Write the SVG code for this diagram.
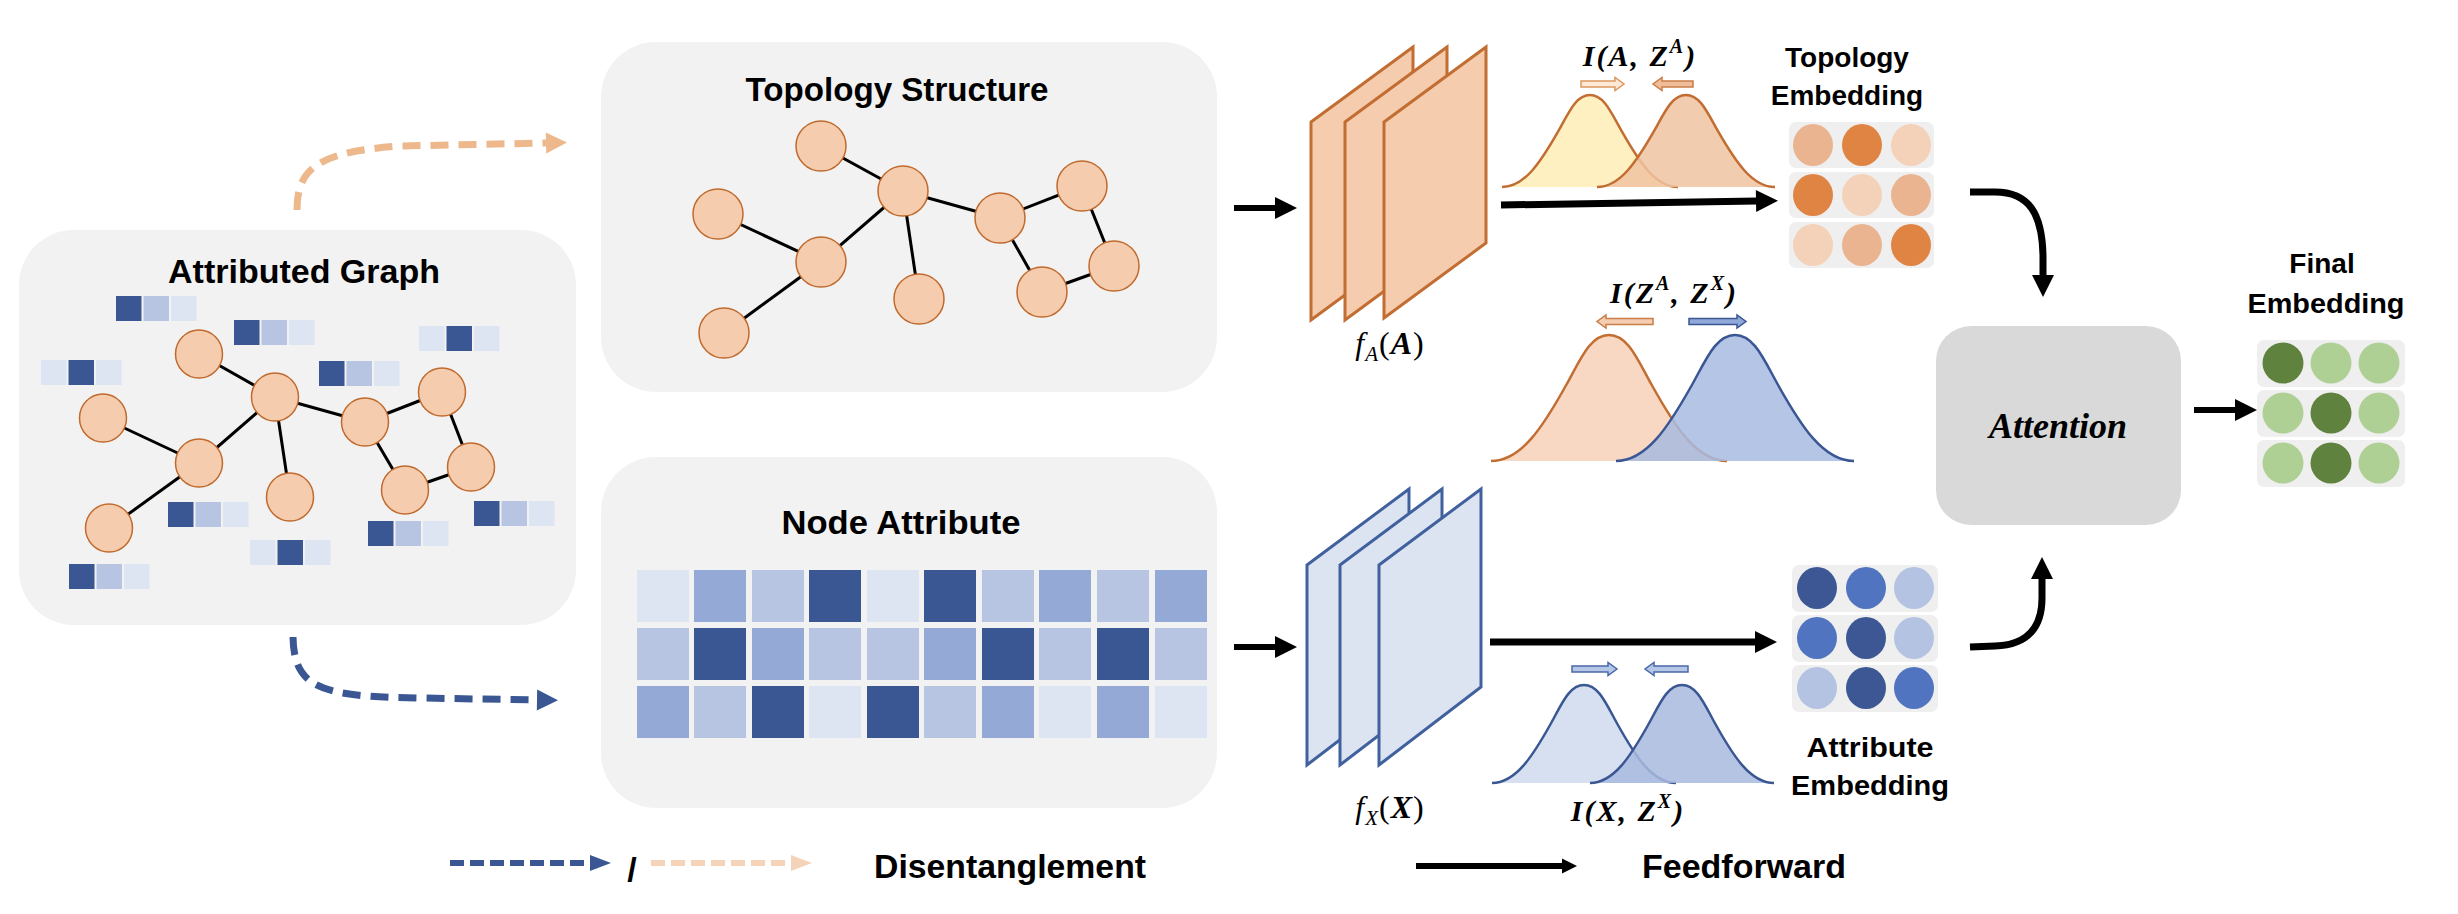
<svg xmlns="http://www.w3.org/2000/svg" width="2458" height="914" viewBox="0 0 2458 914">
<style>
.box{fill:#F2F2F2}
.ttl{font-family:"Liberation Sans",Arial,sans-serif;font-weight:bold;font-size:34px;fill:#000;text-anchor:middle}
.lbl{font-family:"Liberation Sans",Arial,sans-serif;font-weight:bold;font-size:28px;fill:#000;text-anchor:middle}
.math{font-family:"Liberation Serif","Times New Roman",serif;font-size:32px;fill:#000;text-anchor:middle;letter-spacing:1px}
.mb{font-family:"Liberation Serif","Times New Roman",serif;font-size:30px;font-weight:bold;font-style:italic;fill:#000;text-anchor:middle;letter-spacing:2px}
.att{font-family:"Liberation Serif","Times New Roman",serif;font-size:36px;font-weight:bold;font-style:italic;fill:#000;text-anchor:middle}
.nd{fill:#F5CDAE;stroke:#C06A2E;stroke-width:1.5}
.ed{stroke:#000;stroke-width:3;fill:none}
.D{fill:#3A5794}.M{fill:#95A9D7}.L{fill:#B7C5E3}.V{fill:#DEE5F2}
.rowbg{fill:#EFEFEF}
.pA{fill:#F5CDAE;stroke:#C26D31;stroke-width:3}
.pX{fill:#DCE4F2;stroke:#41609E;stroke-width:3}
.gO{stroke:#C26D31;stroke-width:2.5}
.gB{stroke:#3A5794;stroke-width:2.5}
.Om{fill:#E9B48F}.Od{fill:#E08443}.Ol{fill:#F4D2B9}
.Bd{fill:#3D5794}.Bm{fill:#5074BF}.Bl{fill:#B4C3E2}
.Gd{fill:#60823F}.Gl{fill:#AFD095}
.ff{fill:none;stroke:#000;stroke-width:7}
.dsO{fill:none;stroke:#EDB88C;stroke-width:7;stroke-dasharray:18 10}
.dsB{fill:none;stroke:#3A5794;stroke-width:7;stroke-dasharray:18 10}
.ba{stroke-width:1.5}
</style>
<defs>
<marker id="ah" markerUnits="userSpaceOnUse" markerWidth="24" markerHeight="24" refX="1" refY="11" orient="auto" overflow="visible"><path d="M0,0 L22,11 L0,22 Z" fill="#000"/></marker>
<marker id="ahs" markerUnits="userSpaceOnUse" markerWidth="16" markerHeight="16" refX="1" refY="7.5" orient="auto" overflow="visible"><path d="M0,0 L15,7.5 L0,15 Z" fill="#000"/></marker>
<marker id="hO" markerUnits="userSpaceOnUse" markerWidth="24" markerHeight="24" refX="1" refY="10.5" orient="auto" overflow="visible"><path d="M0,0 L21,10.5 L0,21 Z" fill="#EDB88C"/></marker>
<marker id="hB" markerUnits="userSpaceOnUse" markerWidth="24" markerHeight="24" refX="1" refY="10.5" orient="auto" overflow="visible"><path d="M0,0 L21,10.5 L0,21 Z" fill="#3A5794"/></marker>
<marker id="hOl" markerUnits="userSpaceOnUse" markerWidth="24" markerHeight="24" refX="1" refY="8" orient="auto" overflow="visible"><path d="M0,0 L21,8 L0,16 Z" fill="#F5D3B9"/></marker>
<marker id="hBl" markerUnits="userSpaceOnUse" markerWidth="24" markerHeight="24" refX="1" refY="8" orient="auto" overflow="visible"><path d="M0,0 L21,8 L0,16 Z" fill="#3A5794"/></marker>
</defs>
<rect width="2458" height="914" fill="#fff"/>

<g id="attributed-graph">
<rect class="box" x="19" y="230" width="557" height="395" rx="55"/>
<text class="ttl" x="304" y="283" textLength="272" lengthAdjust="spacingAndGlyphs">Attributed Graph</text>
<g class="ed">
<line x1="199" y1="354" x2="275" y2="397"/><line x1="275" y1="397" x2="199" y2="463"/><line x1="103" y1="418" x2="199" y2="463"/><line x1="199" y1="463" x2="109" y2="528"/><line x1="275" y1="397" x2="290" y2="497"/><line x1="275" y1="397" x2="365" y2="422"/><line x1="365" y1="422" x2="442" y2="392"/><line x1="442" y1="392" x2="471" y2="467"/><line x1="471" y1="467" x2="405" y2="490"/><line x1="405" y1="490" x2="365" y2="422"/>
</g>
<g class="nd">
<ellipse cx="199" cy="354" rx="23.5" ry="24"/><ellipse cx="275" cy="397" rx="23.5" ry="24"/><ellipse cx="103" cy="418" rx="23.5" ry="24"/><ellipse cx="199" cy="463" rx="23.5" ry="24"/><ellipse cx="109" cy="528" rx="23.5" ry="24"/><ellipse cx="290" cy="497" rx="23.5" ry="24"/><ellipse cx="365" cy="422" rx="23.5" ry="24"/><ellipse cx="442" cy="392" rx="23.5" ry="24"/><ellipse cx="471" cy="467" rx="23.5" ry="24"/><ellipse cx="405" cy="490" rx="23.5" ry="24"/>
</g>
<g id="feature-bars">
<rect class="D" x="116" y="296" width="25.5" height="25"/><rect class="L" x="143.5" y="296" width="25.5" height="25"/><rect class="V" x="171" y="296" width="25.5" height="25"/>
<rect class="D" x="234" y="320" width="25.5" height="25"/><rect class="L" x="261.5" y="320" width="25.5" height="25"/><rect class="V" x="289" y="320" width="25.5" height="25"/>
<rect class="V" x="41" y="360" width="25.5" height="25"/><rect class="D" x="68.5" y="360" width="25.5" height="25"/><rect class="V" x="96" y="360" width="25.5" height="25"/>
<rect class="D" x="319" y="361" width="25.5" height="25"/><rect class="L" x="346.5" y="361" width="25.5" height="25"/><rect class="V" x="374" y="361" width="25.5" height="25"/>
<rect class="V" x="419" y="326" width="25.5" height="25"/><rect class="D" x="446.5" y="326" width="25.5" height="25"/><rect class="V" x="474" y="326" width="25.5" height="25"/>
<rect class="D" x="168" y="502" width="25.5" height="25"/><rect class="L" x="195.5" y="502" width="25.5" height="25"/><rect class="V" x="223" y="502" width="25.5" height="25"/>
<rect class="D" x="474" y="501" width="25.5" height="25"/><rect class="L" x="501.5" y="501" width="25.5" height="25"/><rect class="V" x="529" y="501" width="25.5" height="25"/>
<rect class="D" x="368" y="521" width="25.5" height="25"/><rect class="L" x="395.5" y="521" width="25.5" height="25"/><rect class="V" x="423" y="521" width="25.5" height="25"/>
<rect class="V" x="250" y="540" width="25.5" height="25"/><rect class="D" x="277.5" y="540" width="25.5" height="25"/><rect class="V" x="305" y="540" width="25.5" height="25"/>
<rect class="D" x="69" y="564" width="25.5" height="25"/><rect class="L" x="96.5" y="564" width="25.5" height="25"/><rect class="V" x="124" y="564" width="25.5" height="25"/>
</g>
</g>

<g id="topology-structure">
<rect class="box" x="601" y="42" width="616" height="350" rx="55"/>
<text class="ttl" x="897" y="101" textLength="303" lengthAdjust="spacingAndGlyphs">Topology Structure</text>
<g class="ed">
<line x1="821" y1="146" x2="903" y2="191"/><line x1="903" y1="191" x2="821" y2="262"/><line x1="718" y1="214" x2="821" y2="262"/><line x1="821" y1="262" x2="724" y2="333"/><line x1="903" y1="191" x2="919" y2="299"/><line x1="903" y1="191" x2="1000" y2="218"/><line x1="1000" y1="218" x2="1082" y2="186"/><line x1="1082" y1="186" x2="1114" y2="266"/><line x1="1114" y1="266" x2="1042" y2="292"/><line x1="1042" y1="292" x2="1000" y2="218"/>
</g>
<g class="nd">
<circle cx="821" cy="146" r="25"/><circle cx="903" cy="191" r="25"/><circle cx="718" cy="214" r="25"/><circle cx="821" cy="262" r="25"/><circle cx="724" cy="333" r="25"/><circle cx="919" cy="299" r="25"/><circle cx="1000" cy="218" r="25"/><circle cx="1082" cy="186" r="25"/><circle cx="1114" cy="266" r="25"/><circle cx="1042" cy="292" r="25"/>
</g>
</g>

<g id="node-attribute">
<rect class="box" x="601" y="457" width="616" height="351" rx="55"/>
<text class="ttl" x="901" y="534" textLength="239" lengthAdjust="spacingAndGlyphs">Node Attribute</text>
<g>
<rect class="V" x="637" y="570" width="52" height="52"/><rect class="M" x="694" y="570" width="52" height="52"/><rect class="L" x="752" y="570" width="52" height="52"/><rect class="D" x="809" y="570" width="52" height="52"/><rect class="V" x="867" y="570" width="52" height="52"/><rect class="D" x="924" y="570" width="52" height="52"/><rect class="L" x="982" y="570" width="52" height="52"/><rect class="M" x="1039" y="570" width="52" height="52"/><rect class="L" x="1097" y="570" width="52" height="52"/><rect class="M" x="1155" y="570" width="52" height="52"/>
<rect class="L" x="637" y="628" width="52" height="52"/><rect class="D" x="694" y="628" width="52" height="52"/><rect class="M" x="752" y="628" width="52" height="52"/><rect class="L" x="809" y="628" width="52" height="52"/><rect class="L" x="867" y="628" width="52" height="52"/><rect class="M" x="924" y="628" width="52" height="52"/><rect class="D" x="982" y="628" width="52" height="52"/><rect class="L" x="1039" y="628" width="52" height="52"/><rect class="D" x="1097" y="628" width="52" height="52"/><rect class="L" x="1155" y="628" width="52" height="52"/>
<rect class="M" x="637" y="686" width="52" height="52"/><rect class="L" x="694" y="686" width="52" height="52"/><rect class="D" x="752" y="686" width="52" height="52"/><rect class="V" x="809" y="686" width="52" height="52"/><rect class="D" x="867" y="686" width="52" height="52"/><rect class="L" x="924" y="686" width="52" height="52"/><rect class="M" x="982" y="686" width="52" height="52"/><rect class="V" x="1039" y="686" width="52" height="52"/><rect class="M" x="1097" y="686" width="52" height="52"/><rect class="V" x="1155" y="686" width="52" height="52"/>
</g>
</g>

<g id="fA">
<polygon class="pA" points="1311,122 1413,47 1413,245 1311,320"/>
<polygon class="pA" points="1345,122 1447,47 1447,245 1345,320"/>
<polygon class="pA" points="1384,122 1486,47 1486,243 1384,318"/>
<text class="math" x="1390" y="354"><tspan font-style="italic">f</tspan><tspan font-style="italic" font-size="21" dy="7">A</tspan><tspan dy="-7">(</tspan><tspan font-weight="bold" font-style="italic">A</tspan>)</text>
</g>

<g id="fX">
<polygon class="pX" points="1307,565 1409,489 1409,687 1307,765"/>
<polygon class="pX" points="1340,565 1442,489 1442,687 1340,765"/>
<polygon class="pX" points="1379,565 1481,489 1481,687 1379,765"/>
<text class="math" x="1390" y="818"><tspan font-style="italic">f</tspan><tspan font-style="italic" font-size="21" dy="7">X</tspan><tspan dy="-7">(</tspan><tspan font-weight="bold" font-style="italic">X</tspan>)</text>
</g>

<g id="mi-topology">
<path class="gO" fill="#FEF0C0" d="M1502,187 C1524.5,187 1540.7,162.2 1558.3,131.2 C1568.9,112.5 1575.9,95 1590,95 C1604.1,95 1611.1,112.5 1621.7,131.2 C1639.3,162.2 1655.5,187 1678,187"/>
<path class="gO" fill="#F0C3A1" fill-opacity="0.85" d="M1597,187 C1619.8,187 1636.2,162.2 1654,131.2 C1664.6,112.5 1671.8,95 1686,95 C1700.2,95 1707.4,112.5 1718,131.2 C1735.8,162.2 1752.2,187 1775,187"/>
<polygon class="ba" fill="#FDE9D5" stroke="#D9985F" points="1581,81 1615,81 1615,77.5 1624,84 1615,90.5 1615,87 1581,87"/>
<polygon class="ba" fill="#F0BD98" stroke="#C97D48" points="1693,81 1662,81 1662,77.5 1653,84 1662,90.5 1662,87 1693,87"/>
<text class="mb" x="1640" y="66">I(A, Z<tspan font-size="20" dy="-13">A</tspan><tspan dy="13">)</tspan></text>
</g>

<g id="mi-disentangle">
<path class="gO" fill="#F8D8C2" d="M1491,461 C1521.2,461 1542.9,427 1566.5,384.5 C1580.7,359 1590.1,335 1609,335 C1627.9,335 1637.3,359 1651.5,384.5 C1675.1,427 1696.8,461 1727,461"/>
<path class="gB" fill="#A8BBE0" fill-opacity="0.85" d="M1616,461 C1646.5,461 1668.4,427 1692.2,384.5 C1706.4,359 1716,335 1735,335 C1754,335 1763.6,359 1777.8,384.5 C1801.6,427 1823.5,461 1854,461"/>
<polygon class="ba" fill="#F5CEB2" stroke="#C97D48" points="1653,318.5 1606,318.5 1606,315 1597,321.5 1606,328 1606,324.5 1653,324.5"/>
<polygon class="ba" fill="#8FA7D9" stroke="#3A5794" points="1689,318.5 1737,318.5 1737,315 1746,321.5 1737,328 1737,324.5 1689,324.5"/>
<text class="mb" x="1674" y="303">I(Z<tspan font-size="20" dy="-13">A</tspan><tspan dy="13">, Z</tspan><tspan font-size="20" dy="-13">X</tspan><tspan dy="13">)</tspan></text>
</g>

<g id="mi-attribute">
<path class="gB" fill="#D6E0F1" d="M1492,783 C1515.6,783 1532.5,756.5 1550.9,723.5 C1561.9,703.6 1569.3,685 1584,685 C1598.7,685 1606.1,703.6 1617.1,723.5 C1635.5,756.5 1652.4,783 1676,783"/>
<path class="gB" fill="#A9BADF" fill-opacity="0.85" d="M1590,783 C1613.6,783 1630.5,756.5 1648.9,723.5 C1659.9,703.6 1667.3,685 1682,685 C1696.7,685 1704.1,703.6 1715.1,723.5 C1733.5,756.5 1750.4,783 1774,783"/>
<polygon class="ba" fill="#B4C7E7" stroke="#4A68A8" points="1572,666 1608,666 1608,662.5 1617,669 1608,675.5 1608,672 1572,672"/>
<polygon class="ba" fill="#B4C7E7" stroke="#4A68A8" points="1688,666 1654,666 1654,662.5 1645,669 1654,675.5 1654,672 1688,672"/>
<text class="mb" x="1628" y="821">I(X, Z<tspan font-size="20" dy="-13">X</tspan><tspan dy="13">)</tspan></text>
</g>

<g id="topology-embedding">
<text class="lbl" x="1847" y="67">Topology</text>
<text class="lbl" x="1847" y="105">Embedding</text>
<rect class="rowbg" x="1789" y="122" width="145" height="46" rx="7"/>
<rect class="rowbg" x="1789" y="172" width="145" height="46" rx="7"/>
<rect class="rowbg" x="1789" y="222" width="145" height="46" rx="7"/>
<ellipse class="Om" cx="1813" cy="145" rx="20" ry="21"/><ellipse class="Od" cx="1862" cy="145" rx="20" ry="21"/><ellipse class="Ol" cx="1911" cy="145" rx="20" ry="21"/>
<ellipse class="Od" cx="1813" cy="195" rx="20" ry="21"/><ellipse class="Ol" cx="1862" cy="195" rx="20" ry="21"/><ellipse class="Om" cx="1911" cy="195" rx="20" ry="21"/>
<ellipse class="Ol" cx="1813" cy="245" rx="20" ry="21"/><ellipse class="Om" cx="1862" cy="245" rx="20" ry="21"/><ellipse class="Od" cx="1911" cy="245" rx="20" ry="21"/>
</g>

<g id="attribute-embedding">
<rect class="rowbg" x="1792" y="565" width="146" height="47" rx="7"/>
<rect class="rowbg" x="1792" y="615" width="146" height="47" rx="7"/>
<rect class="rowbg" x="1792" y="665" width="146" height="47" rx="7"/>
<ellipse class="Bd" cx="1817" cy="588" rx="20" ry="21"/><ellipse class="Bm" cx="1866" cy="588" rx="20" ry="21"/><ellipse class="Bl" cx="1914" cy="588" rx="20" ry="21"/>
<ellipse class="Bm" cx="1817" cy="638" rx="20" ry="21"/><ellipse class="Bd" cx="1866" cy="638" rx="20" ry="21"/><ellipse class="Bl" cx="1914" cy="638" rx="20" ry="21"/>
<ellipse class="Bl" cx="1817" cy="688" rx="20" ry="21"/><ellipse class="Bd" cx="1866" cy="688" rx="20" ry="21"/><ellipse class="Bm" cx="1914" cy="688" rx="20" ry="21"/>
<text class="lbl" x="1870" y="757" textLength="127" lengthAdjust="spacingAndGlyphs">Attribute</text>
<text class="lbl" x="1870" y="795" textLength="158" lengthAdjust="spacingAndGlyphs">Embedding</text>
</g>

<g id="attention">
<rect x="1936" y="326" width="245" height="199" rx="35" fill="#D9D9D9"/>
<text class="att" x="2058" y="438">Attention</text>
</g>

<g id="final-embedding">
<text class="lbl" x="2322" y="273">Final</text>
<text class="lbl" x="2326" y="313" textLength="157" lengthAdjust="spacingAndGlyphs">Embedding</text>
<rect class="rowbg" x="2257" y="340" width="148" height="47" rx="7"/>
<rect class="rowbg" x="2257" y="390" width="148" height="47" rx="7"/>
<rect class="rowbg" x="2257" y="440" width="148" height="47" rx="7"/>
<ellipse class="Gd" cx="2283" cy="363" rx="20.5" ry="20.5"/><ellipse class="Gl" cx="2331" cy="363" rx="20.5" ry="20.5"/><ellipse class="Gl" cx="2379" cy="363" rx="20.5" ry="20.5"/>
<ellipse class="Gl" cx="2283" cy="413" rx="20.5" ry="20.5"/><ellipse class="Gd" cx="2331" cy="413" rx="20.5" ry="20.5"/><ellipse class="Gl" cx="2379" cy="413" rx="20.5" ry="20.5"/>
<ellipse class="Gl" cx="2283" cy="463" rx="20.5" ry="20.5"/><ellipse class="Gd" cx="2331" cy="463" rx="20.5" ry="20.5"/><ellipse class="Gl" cx="2379" cy="463" rx="20.5" ry="20.5"/>
</g>

<g id="connectors">
<path class="dsO" d="M297,210 C297,168 318,152 400,146 L547,143" marker-end="url(#hO)"/>
<path class="dsB" d="M293,637 C294,688 320,697 420,698 L538,700" marker-end="url(#hB)"/>
<path class="ff" style="stroke-width:6" d="M1234,208 L1276,208" marker-end="url(#ah)"/>
<path class="ff" style="stroke-width:6" d="M1234,647 L1276,647" marker-end="url(#ah)"/>
<path class="ff" d="M1501,205 L1757,201" marker-end="url(#ah)"/>
<path class="ff" d="M1490,642 L1756,642" marker-end="url(#ah)"/>
<path class="ff" d="M1970,192 L1995,192 C2030,192 2042,215 2043,255 L2043,276" marker-end="url(#ah)"/>
<path class="ff" d="M1970,647 L1995,646 C2030,645 2042,625 2042,598 L2042,578" marker-end="url(#ah)"/>
<path class="ff" style="stroke-width:6" d="M2194,410 L2236,410" marker-end="url(#ah)"/>
</g>

<g id="legend">
<path fill="none" stroke="#3A5794" stroke-width="6" stroke-dasharray="14 6" d="M450,863 L591,863" marker-end="url(#hBl)"/>
<text class="ttl" x="632" y="881" font-size="38">/</text>
<path fill="none" stroke="#F5D3B9" stroke-width="6" stroke-dasharray="14 6" d="M651,863 L792,863" marker-end="url(#hOl)"/>
<text class="ttl" x="1010" y="878" textLength="272" lengthAdjust="spacingAndGlyphs">Disentanglement</text>
<path fill="none" stroke="#000" stroke-width="6" d="M1416,866 L1563,866" marker-end="url(#ahs)"/>
<text class="ttl" x="1744" y="878" textLength="204" lengthAdjust="spacingAndGlyphs">Feedforward</text>
</g>
</svg>
